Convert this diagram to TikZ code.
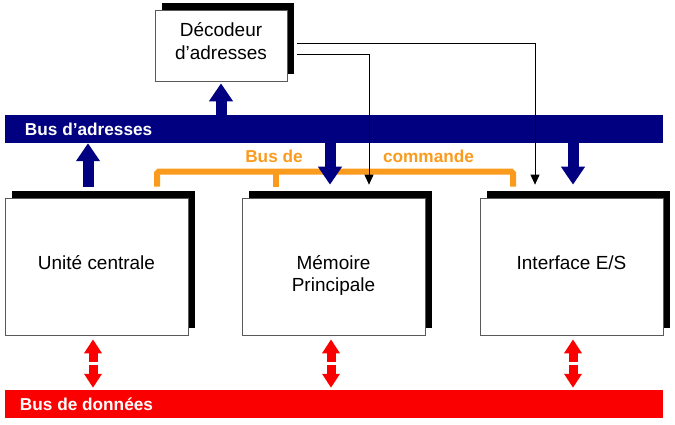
\documentclass[tikz,border=0pt]{standalone}
\usepackage{fontspec}
\setmainfont{Liberation Sans}
\usepackage{tikz}
\usetikzlibrary{arrows.meta,shadows}
\definecolor{adrblue}{RGB}{0,0,128}
\definecolor{datared}{RGB}{250,0,0}
\definecolor{cmdorange}{RGB}{250,155,30}

\begin{document}
\begin{tikzpicture}[x=0.03cm, y=-0.03cm,
    unit/.style={draw=black!65, line width=0.6pt, fill=white, minimum width=5.49cm, minimum height=4.11cm, inner sep=0pt, drop shadow={shadow xshift=0.2cm, shadow yshift=0.2cm, fill=black, opacity=1}},
    unittext/.style={align=center, inner sep=0pt, font=\fontsize{16.2}{19.3}\selectfont},
    bus/.style={minimum width=19.74cm, minimum height=0.84cm, inner sep=0pt},
    buslabel/.style={text=white, font=\fontsize{14.7}{17}\selectfont\bfseries, inner sep=0pt, anchor=west},
    cmdlabel/.style={text=cmdorange, font=\fontsize{14.7}{17}\selectfont\bfseries, inner sep=0pt},
    adrarrow/.style={draw=adrblue, line width=0.33cm, -{Triangle[width=0.69cm, length=0.54cm]}},
    datarrow/.style={draw=datared, line width=0.27cm, -{Triangle[width=0.51cm, length=0.42cm]}},
    ctrl/.style={draw=black, line width=0.7pt, -{Triangle[width=0.27cm, length=0.3cm]}},
    cmdbus/.style={draw=cmdorange, line width=0.18cm, rounded corners=1.5pt}]
    \useasboundingbox (0,0) rectangle (675,425);

    \node[unit, minimum width=3.96cm, minimum height=2.13cm] (dec) at (221,45.5) {};
    \node[unit] (uc) at (96.5,266.5) {};
    \node[unit] (mp) at (333.5,266.5) {};
    \node[unit] (io) at (571.5,266.5) {};
    \node[unittext] (dectext) at ([yshift=0.135cm]dec.center) {Décodeur\\d’adresses};
    \node[unittext] (uctext) at ([yshift=0.12cm]uc.center) {Unité centrale};
    \node[unittext] (mptext) at ([yshift=-0.27cm]mp.center) {Mémoire\\Principale};
    \node[unittext] (iotext) at ([yshift=0.12cm]io.center) {Interface E/S};

    \node[bus, fill=adrblue] (abus) at (334,129) {};
    \node[bus, fill=datared] (dbus) at (334,404) {};
    \node[buslabel] (abuslabel) at ([xshift=0.6cm]abus.west) {Bus d’adresses};
    \node[buslabel] (dbuslabel) at ([xshift=0.45cm]dbus.west) {Bus de données};
    \node[cmdlabel] (cmdlabela) at (274,156) {Bus de};
    \node[cmdlabel] (cmdlabelb) at (428.5,156) {commande};

    \coordinate (ucx) at (88,0);
    \coordinate (mpx) at (330,0);
    \coordinate (iox) at (573,0);
    \coordinate (ucd) at (93,363.5);
    \coordinate (mpd) at (331,363.5);
    \coordinate (iod) at (573,363.5);

    \draw[cmdbus] ([shift={(1.815cm,0.33cm)}]uc.north) -- ++(0,0.45cm) -| ([shift={(-1.755cm,0.33cm)}]io.north);
    \draw[cmdbus] ([shift={(-1.725cm,0.33cm)}]mp.north) -- ++(0,0.45cm);

    \draw[adrarrow, shorten >=0.06cm] (abus.north -| dec.south) -- (dec.south);
    \draw[adrarrow, shorten <=0.33cm] (ucx |- uc.north) -- (ucx |- abus.south);
    \draw[adrarrow, shorten >=0.39cm] (mpx |- abus.south) -- (mpx |- mp.north);
    \draw[adrarrow, shorten >=0.39cm] (iox |- abus.south) -- (iox |- io.north);

    \draw[datarrow, shorten <=0.04cm, shorten >=0.12cm] (ucd) -- (ucd |- uc.south);
    \draw[datarrow, shorten <=0.04cm, shorten >=0.06cm] (ucd) -- (ucd |- dbus.north);
    \draw[datarrow, shorten <=0.04cm, shorten >=0.12cm] (mpd) -- (mpd |- mp.south);
    \draw[datarrow, shorten <=0.04cm, shorten >=0.06cm] (mpd) -- (mpd |- dbus.north);
    \draw[datarrow, shorten <=0.04cm, shorten >=0.12cm] (iod) -- (iod |- io.south);
    \draw[datarrow, shorten <=0.04cm, shorten >=0.06cm] (iod) -- (iod |- dbus.north);

    \draw[ctrl, shorten >=0.39cm] ([shift={(0.3cm,0.075cm)}]dec.east) -| ([xshift=-1.095cm]io.north);
    \draw[ctrl, shorten >=0.39cm] ([shift={(0.3cm,-0.255cm)}]dec.east) -| ([xshift=1.065cm]mp.north);
\end{tikzpicture}
\end{document}
